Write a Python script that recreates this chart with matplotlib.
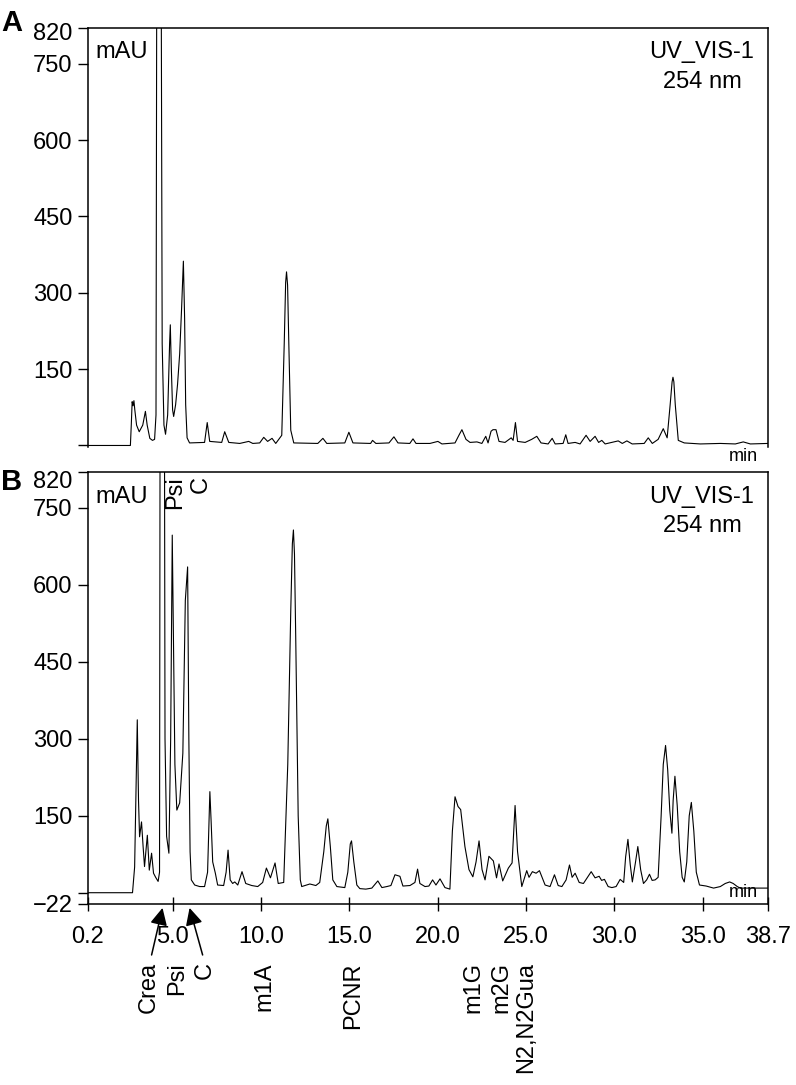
import matplotlib
matplotlib.use("Agg")
import matplotlib.pyplot as plt
import matplotlib.transforms as mtransforms

plt.rcParams["font.family"] = ["Liberation Sans", "DejaVu Sans"]

# Trace A (urine sample), retention time in min and absorbance in mAU
time_a = [0.2, 2.60, 2.65, 2.70, 2.75, 2.80, 2.85, 2.95, 3.10, 3.30, 3.45, 3.55,
          3.70, 3.85, 3.97, 4.05, 4.12, 4.30, 4.40, 4.50, 4.59, 4.71, 4.82, 4.86,
          4.92, 4.99, 5.05, 5.16, 5.27, 5.39, 5.50, 5.60, 5.67, 5.73, 5.81, 5.95,
          6.80, 6.95, 7.09, 7.77, 7.94, 8.17, 8.79, 9.30, 9.53, 9.92, 10.15, 10.37,
          10.62, 10.83, 11.17, 11.31, 11.39, 11.44, 11.50, 11.57, 11.68, 11.85,
          13.21, 13.50, 13.72, 14.74, 14.97, 15.20, 16.20, 16.31, 16.50, 17.24,
          17.52, 17.75, 18.42, 18.60, 18.77, 19.56, 20.01, 20.24, 20.98, 21.20,
          21.37, 21.60, 21.83, 22.22, 22.50, 22.72, 22.85, 23.02, 23.13, 23.30,
          23.47, 23.81, 24.16, 24.27, 24.40, 24.52, 24.95, 25.32, 25.61, 25.85,
          26.25, 26.48, 26.65, 27.10, 27.25, 27.38, 27.78, 28.06, 28.40, 28.63,
          28.91, 29.11, 29.29, 29.48, 30.22, 30.45, 30.71, 31.01, 31.69, 31.92,
          32.15, 32.48, 32.77, 32.99, 33.16, 33.27, 33.32, 33.37, 33.45, 33.62,
          33.96, 34.87, 36.00, 36.85, 37.30, 37.70, 38.70]
mau_a = [0, 0, 40, 86, 78, 88, 70, 40, 27, 40, 67, 40,
         14, 10, 12, 60, 1500, 1500, 200, 40, 22, 60, 200, 237,
         150, 70, 57, 80, 120, 180, 270, 362, 250, 80, 15, 5,
         6, 45, 8, 6, 27, 6, 4, 8, 4, 5, 16, 8,
         14, 4, 20, 200, 320, 341, 315, 200, 30, 5,
         4, 14, 4, 5, 26, 5, 4, 10, 4, 5,
         17, 5, 4, 13, 4, 4, 8, 3, 5, 20,
         31, 12, 6, 7, 4, 18, 5, 28, 31, 31,
         8, 6, 15, 10, 45, 8, 6, 12, 18, 5,
         3, 14, 3, 4, 21, 4, 6, 3, 20, 8,
         18, 6, 10, 3, 9, 4, 9, 3, 4, 15,
         4, 12, 33, 15, 80, 125, 134, 125, 80, 10,
         5, 3, 4, 3, 7, 3, 4]

# Trace B (standard mixture)
time_b = [0.2, 2.72, 2.84, 2.92, 2.99, 3.02, 3.06, 3.12, 3.23, 3.32, 3.40, 3.56,
          3.67, 3.80, 3.91, 4.03, 4.17, 4.25, 4.30, 4.50, 4.56, 4.65, 4.78, 4.88,
          4.97, 5.05, 5.12, 5.23, 5.39, 5.57, 5.71, 5.84, 5.91, 5.98, 6.05, 6.24,
          6.52, 6.80, 6.97, 7.10, 7.17, 7.26, 7.41, 7.54, 7.88, 8.02, 8.13, 8.25,
          8.39, 8.51, 8.68, 8.92, 9.13, 9.47, 9.81, 10.09, 10.30, 10.53, 10.79,
          10.97, 11.28, 11.51, 11.68, 11.77, 11.83, 11.89, 11.96, 12.10, 12.22,
          12.30, 12.76, 13.10, 13.32, 13.55, 13.69, 13.78, 13.92, 14.06, 14.29,
          14.74, 14.91, 15.05, 15.12, 15.25, 15.42, 15.59, 15.93, 16.27, 16.61,
          16.84, 17.12, 17.35, 17.58, 17.86, 18.03, 18.43, 18.71, 18.86, 18.99,
          19.28, 19.50, 19.71, 19.90, 20.13, 20.41, 20.69, 20.83, 20.98, 21.15,
          21.30, 21.54, 21.77, 21.99, 22.17, 22.34, 22.51, 22.68, 22.90, 23.15,
          23.33, 23.47, 23.68, 24.00, 24.21, 24.38, 24.52, 24.76, 25.04, 25.17,
          25.36, 25.57, 25.76, 26.08, 26.36, 26.61, 26.82, 27.03, 27.27, 27.46,
          27.61, 27.78, 28.01, 28.25, 28.69, 28.91, 29.14, 29.28, 29.44, 29.65,
          29.86, 30.10, 30.33, 30.53, 30.64, 30.77, 30.90, 31.02, 31.20, 31.33,
          31.49, 31.65, 31.83, 31.99, 32.14, 32.31, 32.48, 32.65, 32.77, 32.90,
          33.02, 33.14, 33.26, 33.33, 33.43, 33.56, 33.70, 33.84, 33.96, 34.10,
          34.24, 34.36, 34.50, 34.64, 34.82, 35.20, 35.62, 36.00, 36.28, 36.53,
          36.73, 36.96, 37.13, 38.70]
mau_b = [0, 0, 50, 200, 337, 272, 180, 109, 138, 90, 51, 112,
         44, 77, 38, 30, 22, 40, 1500, 1500, 300, 110, 77, 300,
         697, 450, 250, 161, 175, 272, 570, 635, 300, 80, 25, 15,
         12, 12, 40, 197, 140, 60, 38, 15, 14, 40, 83, 25,
         18, 21, 15, 41, 18, 14, 12, 20, 48, 29, 58,
         18, 20, 250, 550, 680, 707, 660, 500, 150, 25,
         12, 17, 14, 20, 80, 130, 144, 90, 25, 12,
         10, 40, 95, 101, 60, 15, 8, 7, 9, 23,
         10, 12, 14, 35, 32, 13, 14, 20, 46, 18,
         12, 13, 25, 15, 27, 10, 7, 120, 187, 168,
         162, 90, 45, 31, 60, 101, 45, 25, 71, 62,
         29, 56, 23, 48, 58, 170, 80, 12, 43, 30,
         41, 38, 43, 15, 12, 35, 14, 12, 25, 54,
         30, 38, 20, 18, 41, 29, 32, 24, 26, 12,
         10, 12, 26, 20, 70, 104, 55, 21, 60, 90,
         45, 18, 25, 36, 24, 25, 30, 150, 250, 287,
         240, 160, 116, 180, 227, 170, 80, 30, 21, 60,
         150, 176, 120, 40, 15, 13, 9, 12, 18, 21,
         18, 12, 9, 9]

x_ticks = [0.2, 5.0, 10.0, 15.0, 20.0, 25.0, 30.0, 35.0, 38.7]
y_ticks_a = [0, 150, 300, 450, 600, 750, 820]
y_ticks_b = [-22, 0, 150, 300, 450, 600, 750, 820]

# peak names written under panel B (label centre in min)
names = ["Crea", "Psi", "C", "m1A", "PCNR", "m1G", "m2G", "N2,N2Gua"]
name_pos = [3.63, 5.22, 6.80, 10.21, 15.19, 22.05, 23.58, 25.00]

FS = 17


def style_axes(ax, yticks, ylabels, shift_px):
    ax.set_xlim(0.2, 38.7)
    ax.set_yticks(yticks)
    ax.set_yticklabels(ylabels)
    ax.tick_params(axis="y", direction="out", length=7, width=1.0,
                   labelsize=FS, pad=4)
    for sp in ax.spines.values():
        sp.set_linewidth(1.1)
    ax.text(0.011, 0.968, "mAU", transform=ax.transAxes, fontsize=FS,
            ha="left", va="top")
    ax.text(0.98, 0.968, "UV_VIS-1\n254 nm", transform=ax.transAxes,
            fontsize=FS, ha="right", va="top", multialignment="center",
            linespacing=1.45)
    # top label sits a little lower than its tick, as in the original print
    lab = ax.get_yticklabels()[-1]
    lab.set_transform(lab.get_transform() +
                      mtransforms.ScaledTranslation(0, -shift_px / 100,
                                                    ax.figure.dpi_scale_trans))


fig = plt.figure(figsize=(7.96, 10.85), dpi=100)

ax_a = fig.add_axes([88 / 796, (1085 - 447) / 1085, 680 / 796, 419 / 1085])
ax_a.plot(time_a, mau_a, color="black", lw=0.8)
ax_a.set_ylim(-3, 820)
style_axes(ax_a, y_ticks_a, ["", "150", "300", "450", "600", "750", "820"], 3)
ax_a.spines["bottom"].set_visible(False)
ax_a.set_xticks([])
ax_a.text(0.985, -0.002, "min", transform=ax_a.transAxes, fontsize=13,
          ha="right", va="top")

ax_b = fig.add_axes([88 / 796, (1085 - 904) / 1085, 680 / 796, 432 / 1085])
ax_b.plot(time_b, mau_b, color="black", lw=0.8)
ax_b.set_ylim(-22, 820)
style_axes(ax_b, y_ticks_b,
           ["\u221222", "", "150", "300", "450", "600", "750", "820"], 8)
ax_b.set_xticks(x_ticks)
ax_b.set_xticklabels(["%.1f" % v for v in x_ticks])
ax_b.tick_params(axis="x", direction="inout", length=10, width=1.0,
                 labelsize=FS, pad=11)
ax_b.text(0.985, 0.008, "min", transform=ax_b.transAxes, fontsize=13,
          ha="right", va="bottom")

# labels of the two early peaks inside panel B
ax_b.text(5.16, 0.99, "Psi", transform=ax_b.get_xaxis_transform(),
          rotation=90, fontsize=FS, ha="center", va="top")
ax_b.text(6.58, 0.99, "C", transform=ax_b.get_xaxis_transform(),
          rotation=90, fontsize=FS, ha="center", va="top")

# compound names below the time axis
trans = ax_b.get_xaxis_transform()
for nm, pos in zip(names, name_pos):
    ax_b.text(pos, -0.135, nm, transform=trans, rotation=90, fontsize=FS,
              ha="center", va="top")

arrow = dict(arrowstyle="-|>", mutation_scale=26, color="black", lw=1.1,
             shrinkA=0, shrinkB=0)
ax_b.annotate("", xy=(4.42, -0.009), xycoords=trans,
              xytext=(3.80, -0.118), textcoords=trans, arrowprops=arrow)
ax_b.annotate("", xy=(5.95, -0.009), xycoords=trans,
              xytext=(6.69, -0.118), textcoords=trans, arrowprops=arrow)

fig.text(0.001, 1 - 31 / 1085, "A", fontsize=21, fontweight="bold",
         va="baseline", ha="left")
fig.text(0.001, 1 - 490 / 1085, "B", fontsize=21, fontweight="bold",
         va="baseline", ha="left")

fig.savefig("out.png", dpi=100)
